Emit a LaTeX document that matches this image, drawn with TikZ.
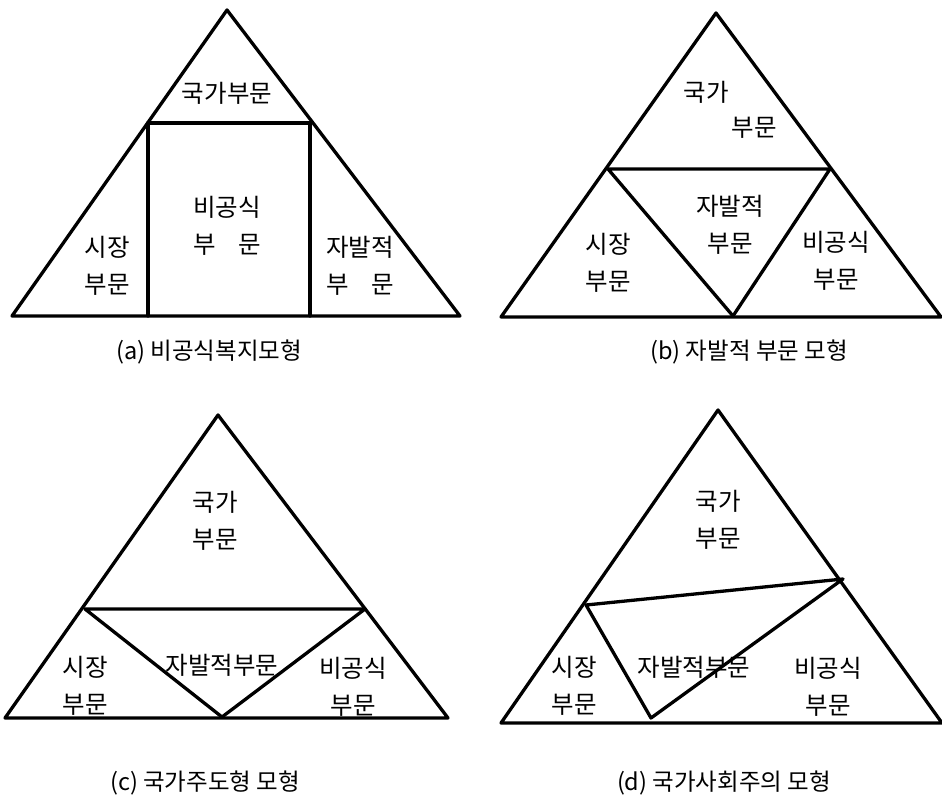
\documentclass[tikz,border=0pt]{standalone}
\usepackage{fontspec}
\newfontfamily\kr{Noto Sans CJK KR}
\begin{document}
\begin{tikzpicture}[x=1pt,y=-1pt,
  edge/.style={line width=3.3pt,line join=round,line cap=round},
  lbl/.style={font=\kr\fontsize{24.5}{37}\selectfont,align=center,inner sep=0pt},
  captxt/.style={font=\kr\fontsize{23.5}{25}\selectfont,inner sep=0pt}]
\useasboundingbox (0,0) rectangle (942,803);
% ---------- (a)
\coordinate (aT) at (227,10);
\coordinate (aL) at (12,316);
\coordinate (aR) at (460,316);
\coordinate (aHL) at (148,123);
\coordinate (aHR) at (310,123);
\coordinate (aBL) at (148,316);
\coordinate (aBR) at (310,316);
\draw[edge] (aT) -- (aL) -- (aR) -- cycle;
\draw[edge] (aBL) -- (aHL) -- (aHR) -- (aBR);
\node[lbl] (a1) at (227,93) {국가부문};
\node[lbl] (a2) at (227,226) {비공식\\부\hspace{0.9em}문};
\node[lbl] (a3) at (107,266) {시장\\부문};
\node[lbl] (a4) at (360,266) {자발적\\부\hspace{0.9em}문};
\node[captxt] (ac) at (209,352) {(a) 비공식복지모형};
% ---------- (b)
\coordinate (bT) at (716,13);
\coordinate (bL) at (501,317);
\coordinate (bR) at (941,317);
\coordinate (bHL) at (608,169);
\coordinate (bHR) at (830,169);
\coordinate (bV) at (733,316);
\draw[edge] (bT) -- (bL) -- (bR) -- cycle;
\draw[edge] (bV) -- (bHL) -- (bHR) -- cycle;
\node[lbl] (b1) at (706,92) {국가};
\node[lbl] (b2) at (754,128) {부문};
\node[lbl] (b3) at (730,225) {자발적\\부문};
\node[lbl] (b4) at (608,263) {시장\\부문};
\node[lbl] (b5) at (836,261) {비공식\\부문};
\node[captxt] (bc) at (749,352) {(b) 자발적 부문 모형};
% ---------- (c)
\coordinate (cT) at (218,415);
\coordinate (cL) at (5,718);
\coordinate (cR) at (448,718);
\coordinate (cHL) at (85,609);
\coordinate (cHR) at (365,609);
\coordinate (cV) at (222,717);
\draw[edge] (cT) -- (cL) -- (cR) -- cycle;
\draw[edge] (cV) -- (cHL) -- (cHR) -- cycle;
\node[lbl] (c1) at (215,521) {국가\\부문};
\node[lbl] (c2) at (85,686) {시장\\부문};
\node[lbl] (c3) at (222,665) {자발적부문};
\node[lbl] (c4) at (353,687) {비공식\\부문};
\node[captxt] (cc) at (205,783) {(c) 국가주도형 모형};
% ---------- (d)
\coordinate (dT) at (718,410);
\coordinate (dL) at (501,723);
\coordinate (dR) at (942,723);
\coordinate (dP) at (586,605);
\coordinate (dQ) at (843,579);
\coordinate (dV) at (651,718);
\draw[edge] (dT) -- (dL) -- (dR) -- cycle;
\draw[edge] (dP) -- (dQ) -- (dV) -- cycle;
\node[lbl] (d1) at (718,520) {국가\\부문};
\node[lbl] (d2) at (574,686) {시장\\부문};
\node[lbl] (d3) at (694,667) {자발적부문};
\node[lbl] (d4) at (828,687) {비공식\\부문};
\node[captxt] (dc) at (724,783) {(d) 국가사회주의 모형};
\end{tikzpicture}
\end{document}
